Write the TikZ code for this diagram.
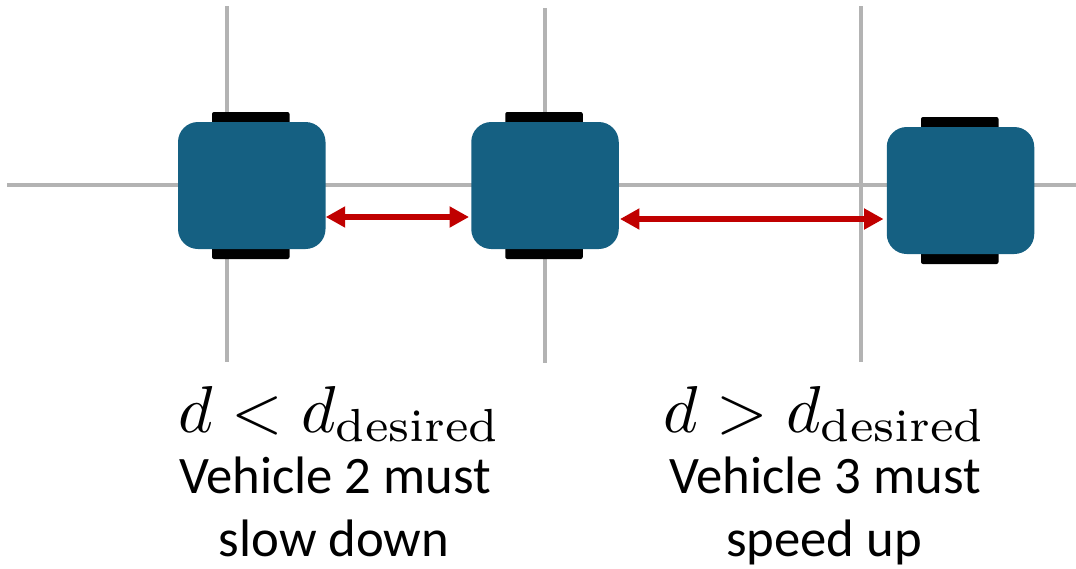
\documentclass[tikz,border=0pt]{standalone}
\usepackage{fontspec}
\newfontfamily\labelfont{Carlito}
\usetikzlibrary{arrows.meta}
\definecolor{carblue}{HTML}{156082}
\definecolor{arrowred}{HTML}{C00000}
\definecolor{gridgray}{HTML}{B3B3B3}
\tikzset{
  gridline/.style={draw=gridgray,line width=4.2pt},
  carbody/.style={fill=carblue,draw=none,rounded corners=20pt,minimum width=147.5pt,minimum height=127pt,inner sep=0pt,outer sep=0pt},
  wheel/.style={fill=black,draw=none,rounded corners=2pt,minimum width=77.5pt,minimum height=147pt,inner sep=0pt,outer sep=0pt},
  gaparrow/.style={draw=arrowred,line width=6pt,{Triangle[length=19.5pt,width=20pt]}-{Triangle[length=19.5pt,width=20pt]}},
  mathlabel/.style={anchor=base,scale=6.63,inner sep=0pt},
  textlabel/.style={anchor=base,inner sep=0pt,font=\labelfont\fontsize{52.7}{60}\selectfont}
}
\begin{document}
\begin{tikzpicture}[x=1pt,y=-1pt]
\useasboundingbox (0,0) rectangle (1076,568);
% road grid
\coordinate (hl) at (7,185.3);   \coordinate (hr) at (1076,185.3);
\coordinate (v1t) at (227,6);  \coordinate (v1b) at (227,362);
\coordinate (v2t) at (545,8);  \coordinate (v2b) at (545,363);
\coordinate (v3t) at (861,6);  \coordinate (v3b) at (861,362);
\draw[gridline] (hl) -- (hr);
\draw[gridline] (v1t) -- (v1b);
\draw[gridline] (v2t) -- (v2b);
\draw[gridline] (v3t) -- (v3b);
% vehicles
\node[wheel] (w1) at (250.75,185.5) {};
\node[wheel] (w2) at (544,185.5) {};
\node[wheel] (w3) at (959.75,190.5) {};
\node[carbody] (car1) at (251.75,185.5) {};
\node[carbody] (car2) at (545,185.5) {};
\node[carbody] (car3) at (960.5,190.5) {};
% gaps
\draw[gaparrow,shorten <=0.2pt,shorten >=2.2pt] ([yshift=-31.5pt]car1.east) -- ([yshift=-31.5pt]car2.west);
\draw[gaparrow,shorten <=1.2pt,shorten >=3.2pt] ([yshift=-33.5pt]car2.east) -- ([yshift=-28.5pt]car3.west);
% labels
\node[mathlabel] (m1) at (340,432) {$d<d_{\mathrm{desired}}$};
\node[mathlabel] (m2) at (825,432) {$d>d_{\mathrm{desired}}$};
\node[textlabel] (t1a) at (335,493.5) {Vehicle 2 must};
\node[textlabel] (t1b) at (334,556) {slow down};
\node[textlabel] (t2a) at (825,493.5) {Vehicle 3 must};
\node[textlabel] (t2b) at (824,556) {speed up};
\end{tikzpicture}
\end{document}
